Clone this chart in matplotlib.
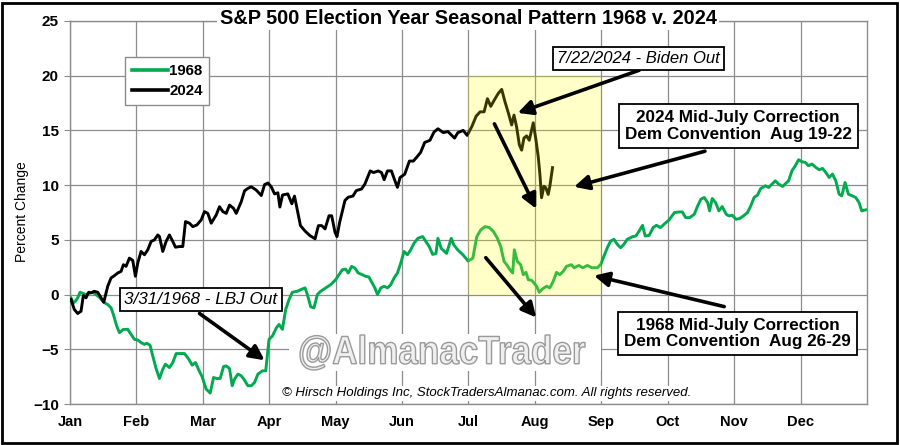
import numpy as np
import matplotlib
matplotlib.use('Agg')
import matplotlib.pyplot as plt
from matplotlib.textpath import TextPath
from matplotlib.patches import PathPatch, Rectangle
from matplotlib.font_manager import FontProperties
from matplotlib.transforms import Affine2D

# ==== Data (x = position in months from Jan 1, value = % change) ====
months = ['Jan', 'Feb', 'Mar', 'Apr', 'May', 'Jun', 'Jul', 'Aug', 'Sep', 'Oct', 'Nov', 'Dec']
y_ticks = [-10, -5, 0, 5, 10, 15, 20, 25]

x_2024 = [0.015, 0.065, 0.116, 0.166, 0.201, 0.241, 0.281, 0.317, 0.367, 0.417, 0.467, 0.508,
          0.568, 0.618, 0.668, 0.719, 0.769, 0.804, 0.844, 0.894, 0.945, 0.985, 1.020, 1.070,
          1.121, 1.171, 1.221, 1.271, 1.322, 1.347, 1.397, 1.447, 1.497, 1.548, 1.588, 1.648,
          1.698, 1.739, 1.799, 1.849, 1.910, 1.975, 2.025, 2.075, 2.126, 2.201, 2.251, 2.302,
          2.352, 2.402, 2.462, 2.503, 2.578, 2.628, 2.678, 2.729, 2.804, 2.88, 2.93, 2.98,
          3.03, 3.08, 3.13, 3.16, 3.20, 3.24, 3.28, 3.34, 3.38, 3.41, 3.47, 3.54, 3.61, 3.69,
          3.74, 3.79, 3.84, 3.90, 3.94, 3.99, 4.02, 4.06, 4.14, 4.19, 4.26, 4.31, 4.39, 4.44,
          4.52, 4.57, 4.64, 4.69, 4.73, 4.78, 4.84, 4.88, 4.93, 4.97, 5.04, 5.11, 5.17, 5.22,
          5.28, 5.34, 5.42, 5.48, 5.54, 5.62, 5.69, 5.74, 5.79, 5.84, 5.92, 5.98, 6.05, 6.115,
          6.175, 6.235, 6.285, 6.335, 6.40, 6.45, 6.50, 6.55, 6.60, 6.65, 6.685, 6.725, 6.765,
          6.80, 6.835, 6.875, 6.915, 6.95, 6.975, 7.015, 7.05, 7.075, 7.10, 7.135, 7.165, 7.20,
          7.225, 7.265]
v_2024 = [-0.45, -1.36, -1.73, -1.52, -0.09, -0.30, 0.21, 0.15, 0.30, 0.21, -0.30, -0.70,
          0.76, 1.52, 1.73, 1.97, 2.12, 2.73, 2.58, 3.33, 3.12, 1.67, 2.88, 3.94,
          3.64, 4.09, 4.85, 5.00, 5.45, 5.30, 3.94, 4.85, 5.45, 4.85, 4.33, 4.39,
          4.39, 6.67, 6.52, 6.21, 6.36, 6.82, 7.58, 7.42, 6.52, 7.27, 8.03, 7.58,
          7.42, 8.18, 7.88, 7.42, 8.48, 9.48, 9.70, 9.85, 9.55, 9.05, 10.05, 10.2,
          9.85, 9.2, 9.3, 8.0, 9.1, 9.15, 9.2, 8.3, 9.0, 8.1, 6.3, 5.8, 5.4, 5.1,
          6.3, 6.3, 6.0, 7.2, 7.2, 5.7, 5.3, 6.6, 8.6, 8.9, 9.0, 9.5, 9.65, 10.1,
          11.3, 11.15, 11.3, 11.15, 10.5, 11.3, 11.3, 10.6, 9.8, 10.7, 11.0, 12.2, 12.2, 12.55,
          13.0, 13.9, 14.1, 14.85, 15.15, 14.8, 14.9, 14.6, 14.3, 14.8, 15.0, 14.55, 15.35, 16.3,
          16.7, 16.7, 17.9, 17.2, 17.9, 18.4, 18.75, 17.6, 16.6, 15.5, 16.4, 15.3, 13.7,
          13.2, 14.3, 14.5, 14.1, 15.05, 15.7, 14.15, 12.6, 11.0, 8.85, 9.9, 9.75, 9.15,
          9.9, 11.6]

x_1968 = [0.015, 0.05, 0.08, 0.116, 0.151, 0.201, 0.241, 0.291, 0.342, 0.392, 0.452, 0.508,
          0.568, 0.618, 0.653, 0.704, 0.744, 0.804, 0.869, 0.920, 0.970, 1.020, 1.070, 1.121,
          1.156, 1.206, 1.246, 1.296, 1.347, 1.397, 1.437, 1.497, 1.548, 1.598, 1.658, 1.724,
          1.789, 1.839, 1.889, 1.940, 1.990, 2.050, 2.111, 2.161, 2.211, 2.261, 2.312, 2.352,
          2.402, 2.442, 2.477, 2.528, 2.578, 2.628, 2.678, 2.729, 2.779, 2.829, 2.897, 2.947,
          2.997, 3.048, 3.108, 3.148, 3.198, 3.248, 3.298, 3.348, 3.424, 3.474, 3.539, 3.574,
          3.624, 3.674, 3.724, 3.774, 3.850, 3.925, 4.0, 4.05, 4.10, 4.15, 4.19, 4.24,
          4.29, 4.34, 4.40, 4.45, 4.50, 4.55, 4.59, 4.63, 4.68, 4.73, 4.78, 4.83,
          4.88, 4.93, 4.98, 5.03, 5.08, 5.13, 5.18, 5.24, 5.31, 5.36, 5.41, 5.46,
          5.51, 5.54, 5.59, 5.67, 5.74, 5.78, 5.84, 5.92, 5.995, 6.065, 6.125, 6.185,
          6.25, 6.315, 6.375, 6.435, 6.485, 6.535, 6.575, 6.625, 6.665, 6.69, 6.735, 6.785,
          6.825, 6.865, 6.90, 6.95, 6.985, 7.025, 7.065, 7.115, 7.175, 7.225, 7.275, 7.325,
          7.375, 7.425, 7.475, 7.55, 7.59, 7.66, 7.72, 7.79, 7.86, 7.94, 7.99, 8.04,
          8.09, 8.14, 8.19, 8.24, 8.29, 8.34, 8.39, 8.47, 8.52, 8.57, 8.62, 8.66,
          8.72, 8.78, 8.83, 8.89, 8.96, 9.02, 9.10, 9.17, 9.22, 9.27, 9.33, 9.40,
          9.45, 9.50, 9.55, 9.60, 9.63, 9.67, 9.72, 9.77, 9.82, 9.88, 9.92, 9.97,
          10.03, 10.08, 10.14, 10.20, 10.25, 10.30, 10.35, 10.40, 10.47, 10.52, 10.57, 10.62,
          10.67, 10.73, 10.78, 10.82, 10.87, 10.92, 10.97, 11.02, 11.07, 11.12, 11.17, 11.23,
          11.28, 11.33, 11.38, 11.43, 11.48, 11.53, 11.58, 11.62, 11.67, 11.72, 11.78, 11.83,
          11.88, 11.92, 11.98]
v_1968 = [-0.30, -0.76, -0.61, -0.30, 0.21, 0.09, 0.0, 0.15, 0.21, 0.0, -0.30, -0.70,
          -0.91, -1.21, -1.82, -2.88, -3.48, -3.18, -3.18, -3.64, -4.09, -4.15, -4.39, -4.55,
          -4.45, -4.64, -5.61, -6.76, -7.67, -6.82, -6.36, -6.67, -6.21, -5.39, -5.39, -5.39,
          -5.91, -6.45, -6.21, -6.91, -7.52, -8.64, -9.00, -7.58, -7.67, -7.67, -6.58, -6.52,
          -6.76, -8.33, -7.73, -7.27, -7.42, -7.82, -8.33, -8.33, -8.03, -7.27, -6.97, -6.97,
          -4.09, -3.79, -3.03, -2.73, -3.18, -1.36, -0.45, 0.21, 0.30, 0.45, 0.61, 0.0,
          -1.12, -1.21, 0.0, 0.30, 0.61, 0.91, 1.36, 1.82, 2.27, 2.33, 1.97, 2.58,
          2.42, 1.97, 1.82, 1.67, 1.61, 1.06, 0.61, 0.0, 0.61, 0.76, 0.61, 0.91,
          1.52, 1.97, 2.88, 3.94, 3.64, 4.09, 4.70, 5.15, 5.30, 4.83, 4.37, 3.67,
          3.76, 5.14, 4.22, 3.76, 5.14, 4.53, 4.07, 3.61, 3.06, 3.33, 5.30, 5.91,
          6.21, 6.12, 5.76, 5.15, 4.39, 3.03, 2.73, 2.27, 1.97, 4.09, 3.03, 2.73,
          1.82, 2.03, 1.36, 1.30, 1.06, 0.76, 0.21, 0.52, 0.76, 0.61, 1.21, 2.03,
          1.82, 2.12, 2.58, 2.73, 2.45, 2.66, 2.45, 2.66, 2.45, 2.45, 2.75, 3.52,
          4.28, 4.89, 5.05, 4.59, 4.28, 4.59, 5.05, 5.29, 5.35, 5.81, 6.33, 5.35,
          5.41, 6.12, 6.33, 6.12, 6.51, 6.82, 7.49, 7.55, 7.55, 7.03, 7.03, 7.34,
          8.10, 8.72, 8.87, 8.41, 7.65, 8.78, 8.41, 7.65, 8.04, 7.34, 7.19, 7.25,
          6.88, 6.94, 7.19, 7.49, 8.10, 8.87, 9.08, 9.69, 9.94, 9.79, 10.09, 10.40,
          10.09, 9.88, 10.18, 10.40, 11.31, 11.77, 12.32, 12.14, 12.08, 11.77, 11.93, 11.62,
          11.41, 11.53, 11.16, 10.70, 11.01, 10.40, 9.17, 9.02, 10.24, 9.17, 9.02, 8.87,
          8.41, 7.65, 7.74]

# shaded window: Jul 1 to Sep 1, 0% to 20%
shade_x = (6, 8)
shade_y = (0, 20)

GREEN = '#00AA4F'
GRID = '#8c8c8c'

plt.rcParams['font.family'] = ['Liberation Sans', 'DejaVu Sans']

fig = plt.figure(figsize=(9, 4.45), dpi=100, facecolor='white')
ax = fig.add_axes([70 / 900, 1 - 404 / 445, 797 / 900, 383 / 445])

ax.plot(x_1968, v_1968, color=GREEN, lw=2.1, label='1968', zorder=3, solid_joinstyle='round')
ax.plot(x_2024, v_2024, color='black', lw=2.1, label='2024', zorder=4, solid_joinstyle='round')

# translucent yellow window drawn over the lines
ax.add_patch(Rectangle((shade_x[0], shade_y[0]), shade_x[1] - shade_x[0], shade_y[1] - shade_y[0],
                       facecolor=(1, 1, 0), alpha=0.22, edgecolor='none', zorder=5))

ax.set_xlim(0, 12)
ax.set_ylim(-10, 25)
ax.set_xticks(range(12))
ax.set_xticklabels(months, fontsize=10.5, fontweight='bold')
ax.set_yticks(y_ticks)
ax.set_yticklabels([f'{t}'.replace('-', '\u2212') for t in y_ticks], fontsize=11, fontweight='bold')
ax.tick_params(axis='x', length=0, pad=8)
ax.tick_params(axis='y', length=4, color=GRID, pad=4)
ax.grid(True, color=GRID, lw=0.9)
ax.set_axisbelow(True)
for s in ax.spines.values():
    s.set_color(GRID)
    s.set_linewidth(1.0)

fig.text(22 / 900, 1 - 212 / 445, 'Percent Change', rotation=90, ha='center', va='center', fontsize=10)

leg = ax.legend(loc='upper left', bbox_to_anchor=(0.069, 0.906), borderaxespad=0,
                prop={'weight': 'bold', 'size': 10.8}, handlelength=2.4, handletextpad=0.1,
                borderpad=0.45, labelspacing=0.4, fancybox=False, framealpha=1)
leg.get_frame().set_edgecolor(GRID)
leg.get_frame().set_linewidth(1.0)
for line in leg.get_lines():
    line.set_linewidth(2.6)

fig.text(468 / 900, 1 - 18 / 445, 'S&P 500 Election Year Seasonal Pattern 1968 v. 2024',
         ha='center', va='center', fontsize=14.3, fontweight='bold',
         bbox=dict(facecolor='white', edgecolor='none', pad=2))

# ==== Annotations ====
arrow = dict(arrowstyle='-|>', color='black', lw=2.6, mutation_scale=22, shrinkA=0, shrinkB=0)
box = dict(boxstyle='square,pad=0.35', facecolor='white', edgecolor='black', lw=1.3)
ibox = dict(boxstyle='square,pad=0.25', facecolor='white', edgecolor='black', lw=1.3)

ax.annotate('', xy=(6.74, 16.6), xytext=(8.57, 20.5), arrowprops=arrow, zorder=7)
ax.text(8.56, 21.6, '7/22/2024 - Biden Out', ha='center', va='center', fontsize=12,
        style='italic', bbox=ibox, zorder=8)

ax.annotate('', xy=(7.59, 9.85), xytext=(9.56, 13.1), arrowprops=arrow, zorder=7)
ax.text(10.06, 15.4, '2024 Mid-July Correction\nDem Convention  Aug 19-22', ha='center', va='center',
        fontsize=12.3, fontweight='bold', linespacing=1.15, bbox=box, zorder=8)

ax.annotate('', xy=(7.02, 7.84), xytext=(6.39, 15.6), arrowprops=arrow, zorder=7)
ax.annotate('', xy=(7.02, -2.1), xytext=(6.26, 3.37), arrowprops=arrow, zorder=7)

ax.annotate('', xy=(7.89, 1.73), xytext=(9.85, -1.1), arrowprops=arrow, zorder=7)
ax.text(10.05, -3.55, '1968 Mid-July Correction\nDem Convention  Aug 26-29', ha='center', va='center',
        fontsize=12.3, fontweight='bold', linespacing=1.15, bbox=box, zorder=8)

ax.annotate('', xy=(2.93, -6.0), xytext=(1.95, -1.73), arrowprops=arrow, zorder=7)
ax.text(1.97, -0.46, '3/31/1968 - LBJ Out', ha='center', va='center', fontsize=12.3,
        style='italic', bbox=ibox, zorder=8)

# watermark
ax.add_patch(Rectangle((3.3, -7.0), 4.7, 3.4, facecolor='white', edgecolor='none', zorder=2))
fp = FontProperties(family='Liberation Sans', weight='bold')
tp = TextPath((0, 0), '@AlmanacTrader', size=40, prop=fp)
bb = tp.get_extents()
wm_tr = Affine2D().translate(-bb.x0, -bb.y0).scale(285 / bb.width / 900, 35 / bb.height / 445) \
    .translate(300 / 900, 75 / 445)
fig.add_artist(PathPatch(tp, transform=wm_tr + fig.transFigure, facecolor='#efefef',
                         edgecolor='#9a9a9a', lw=1.0))

ax.text(6.27, -9.0, '\u00a9 Hirsch Holdings Inc, StockTradersAlmanac.com. All rights reserved.',
        ha='center', va='center', fontsize=9.5, style='italic',
        bbox=dict(facecolor='white', edgecolor='none', pad=1), zorder=6)

fig.add_artist(Rectangle((2 / 900, 2 / 445), 895 / 900, 440 / 445, transform=fig.transFigure,
                         fill=False, edgecolor='black', lw=2))

fig.savefig('out.png', dpi=100, facecolor='white')
